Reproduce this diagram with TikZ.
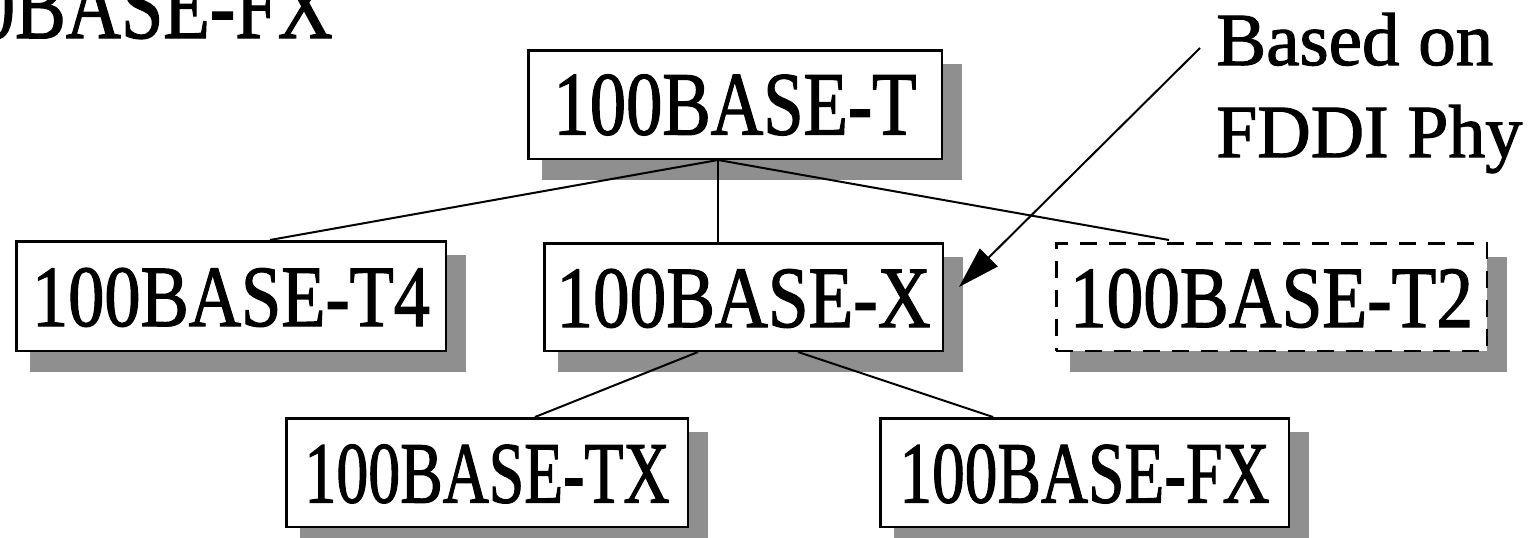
\documentclass[tikz,border=0pt]{standalone}
\usepackage{fontspec}
\setmainfont{Liberation Serif}
\newfontfamily\boxfont[FakeBold=1.5]{Liberation Serif}
\usetikzlibrary{arrows.meta,backgrounds}
\definecolor{shadowgray}{RGB}{143,143,143}
\newcommand{\fitt}[3]{\resizebox{#1pt}{#2pt}{\boxfont #3}}
\tikzset{
  box/.style={draw=black, line width=2.5pt, fill=white, inner sep=0pt, anchor=north west},
  dashbox/.style={box, dash pattern=on 17pt off 12pt},
  link/.style={draw=black, line width=2pt},
  callout/.style={draw=black, line width=2pt, -{Triangle[length=42pt,width=25pt]}},
  shadowfill/.style={fill=shadowgray},
  lbl/.style={inner sep=0pt, anchor=base west},
}
\newcommand{\shadowof}[1]{\fill[shadowfill] ([xshift=15pt,yshift=-15pt]#1.north west) rectangle ([xshift=19pt,yshift=-20pt]#1.south east);}
\begin{document}
\begin{tikzpicture}[x=1pt,y=-1pt]
\useasboundingbox (0,0) rectangle (1534,538);
\clip (0,0) rectangle (1534,538);

% clipped title remnant
\node[inner sep=0pt, anchor=base east] (title) at (333,38) {\fitt{432}{63}{100BASE-FX}};

% boxes
\node[box, minimum width=413.5pt, text height=84.25pt, text depth=24.25pt] (T) at (527,49) {\fitt{363}{60}{100BASE-T}};
\node[box, minimum width=429.5pt, text height=84.75pt, text depth=24.75pt] (T4) at (15,240) {\fitt{398}{58}{100BASE-T4}};
\node[box, minimum width=398.5pt, text height=83.75pt, text depth=23.75pt] (X) at (543,242) {\fitt{374}{58}{100BASE-X}};
\node[dashbox, minimum width=430.5pt, text height=83.75pt, text depth=23.75pt] (T2) at (1055,242) {\fitt{403}{58}{100BASE-T2}};
\node[box, minimum width=401.5pt, text height=84.25pt, text depth=24.25pt] (TX) at (285,417) {\fitt{365}{58}{100BASE-TX}};
\node[box, minimum width=408.5pt, text height=84.25pt, text depth=24.25pt] (FX) at (879,417) {\fitt{370}{58}{100BASE-FX}};

\begin{pgfonlayer}{background}
  \fill[white] (0,0) rectangle (1534,538);
  \shadowof{T}
  \shadowof{T4}
  \shadowof{X}
  \shadowof{T2}
  \shadowof{TX}
  \shadowof{FX}
\end{pgfonlayer}

% connectors
\coordinate (tp) at ([xshift=-17pt]T.south);
\draw[link] (tp) -- ([xshift=39pt]T4.north);
\draw[link] (tp) -- ([xshift=-25.5pt]X.north);
\draw[link] (tp) -- ([xshift=-102.5pt,yshift=2pt]T2.north);
\draw[link] ([xshift=-45.5pt]X.south) -- ([xshift=48pt]TX.north);
\draw[link] ([xshift=54.5pt]X.south) -- ([xshift=-91.5pt]FX.north);

% callout
\node[lbl] (based) at (1216,65) {\fitt{277}{52}{Based on}};
\node[lbl] (fddi) at (1216,157) {\fitt{306}{52}{FDDI Phy}};
\coordinate (cstart) at (1200,48);
\draw[callout] (cstart) -- ([xshift=15pt,yshift=10pt]X.east);
\end{tikzpicture}
\end{document}
